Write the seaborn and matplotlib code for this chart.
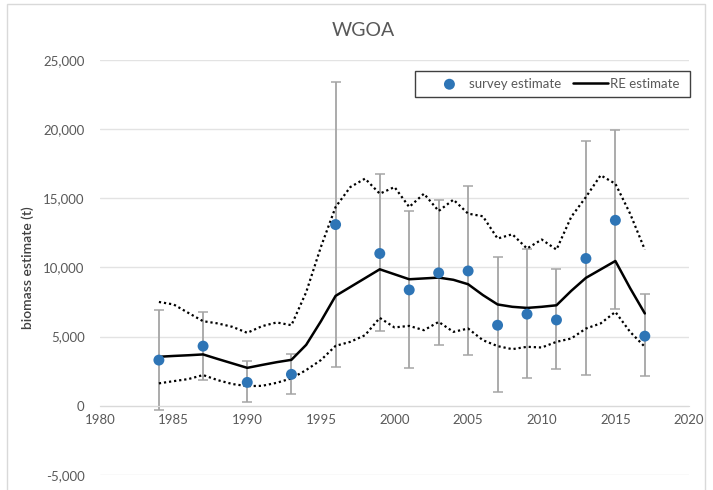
import numpy as np
import pandas as pd
import matplotlib
matplotlib.use("Agg")
import matplotlib.pyplot as plt
from matplotlib.patches import Rectangle
from matplotlib.ticker import FuncFormatter
import seaborn as sns

# survey estimates with error bar limits
survey_years = [1984, 1987, 1990, 1993, 1996, 1999, 2001, 2003, 2005, 2007, 2009, 2011, 2013, 2015, 2017]
survey_est = [3300, 4310, 1690, 2270, 13090, 11000, 8370, 9600, 9740, 5820, 6620, 6200, 10640, 13400, 5030]
survey_hi = [6950, 6810, 3250, 3750, 23400, 16740, 14100, 14840, 15870, 10780, 11300, 9880, 19150, 19940, 8040]
survey_lo = [-310, 1850, 250, 820, 2770, 5390, 2720, 4360, 3660, 970, 1980, 2630, 2190, 7000, 2140]

# random effects model, annual
re_years = list(range(1984, 2018))
re_est = [3540, 3600, 3650, 3710, 3380, 3060, 2740, 2950, 3150, 3320,
          4400, 6100, 7940, 8580, 9220, 9860, 9500, 9140, 9200, 9260,
          9100, 8780, 8000, 7320, 7150, 7070, 7150, 7260, 8300, 9240,
          9850, 10460, 8500, 6670]
re_upper = [7500, 7320, 6710, 6110, 5950, 5700, 5270, 5750, 6020, 5820,
            8200, 11470, 14360, 15800, 16410, 15320, 15800, 14360, 15320, 14070,
            14890, 13880, 13690, 12080, 12390, 11360, 12010, 11280, 13640, 15080,
            16650, 16040, 13880, 11280]
re_lower = [1620, 1780, 1930, 2220, 1850, 1570, 1420, 1440, 1660, 1980,
            2580, 3300, 4330, 4620, 5100, 6350, 5660, 5770, 5460, 6060,
            5340, 5580, 4740, 4310, 4090, 4260, 4210, 4620, 4860, 5580,
            5950, 6780, 5340, 4260]

survey = pd.DataFrame({"year": survey_years, "est": survey_est,
                       "hi": survey_hi, "lo": survey_lo})
re = pd.DataFrame({"year": re_years, "est": re_est,
                   "upper": re_upper, "lower": re_lower})

sns.set_style("white")
plt.rcParams["font.family"] = ["Lato", "DejaVu Sans"]

fig = plt.figure(figsize=(7.13, 4.9), dpi=100)
ax = fig.add_axes([100 / 713, 1 - 475 / 490, 589 / 713, 415.3 / 490])

# chart border
fig.patches.append(Rectangle((7 / 713, -0.01), 698 / 713, 1 - 4 / 490 + 0.01,
                             transform=fig.transFigure, fill=False,
                             edgecolor="#d9d9d9", linewidth=1))

grey = "#a5a5a5"
ax.errorbar(survey["year"], survey["est"],
            yerr=[survey["est"] - survey["lo"], survey["hi"] - survey["est"]],
            fmt="none", ecolor=grey, elinewidth=1.3, capsize=3.5, capthick=1.1, zorder=2)

sns.lineplot(data=re, x="year", y="upper", ax=ax, color="black", linestyle=(0, (1, 1.3)),
             linewidth=1.6, zorder=3)
sns.lineplot(data=re, x="year", y="lower", ax=ax, color="black", linestyle=(0, (1, 1.3)),
             linewidth=1.6, zorder=3)
sns.lineplot(data=re, x="year", y="est", ax=ax, color="black", linewidth=1.8,
             zorder=4, label="RE estimate")
sns.scatterplot(data=survey, x="year", y="est", ax=ax, color="#2e75b6", s=62,
                edgecolor="none", zorder=5, label="survey estimate")

ax.set_xlim(1980, 2020)
ax.set_ylim(-5000, 25000)
ax.set_xticks(range(1980, 2021, 5))
ax.set_yticks(range(-5000, 25001, 5000))
ax.yaxis.set_major_formatter(FuncFormatter(lambda v, p: f"{int(v):,}"))
ax.grid(axis="y", color="#e3e3e3", linewidth=1)
ax.set_axisbelow(True)

for s in ["top", "right", "left"]:
    ax.spines[s].set_visible(False)
ax.spines["bottom"].set_position(("data", 0))
ax.spines["bottom"].set_color("#d9d9d9")
ax.tick_params(axis="both", length=0, labelsize=9.5, labelcolor="#595959")
ax.tick_params(axis="x", pad=6)
ax.tick_params(axis="y", pad=11)

ax.set_xlabel("")
ax.set_ylabel("biomass estimate (t)", fontsize=10, color="#404040", fontweight="semibold")
ax.yaxis.set_label_coords(-0.112, 0.5)

fig.text(363 / 713, 1 - 31 / 490, "WGOA", ha="center", va="center",
         fontsize=14, color="#595959")

# legend box drawn separately, entries placed inside
ax.add_patch(Rectangle(((415 - 100) / 589, (475 - 96.7) / 415.3), 275 / 589, 26 / 415.3,
                       transform=ax.transAxes, fill=True, facecolor="white",
                       edgecolor="#404040", linewidth=1.0, zorder=6, clip_on=False))
handles, labels = ax.get_legend_handles_labels()
order = [labels.index("survey estimate"), labels.index("RE estimate")]
leg = ax.legend([handles[i] for i in order], [labels[i] for i in order],
                loc="center left", bbox_to_anchor=((427 - 100) / 589, (475 - 83.7) / 415.3),
                borderaxespad=0, ncol=2, fontsize=9.5, frameon=False,
                handlelength=2.6, columnspacing=0.9, handletextpad=0.2)
leg.set_zorder(7)
for t in leg.get_texts():
    t.set_color("#595959")

fig.savefig("out.png", dpi=100)
